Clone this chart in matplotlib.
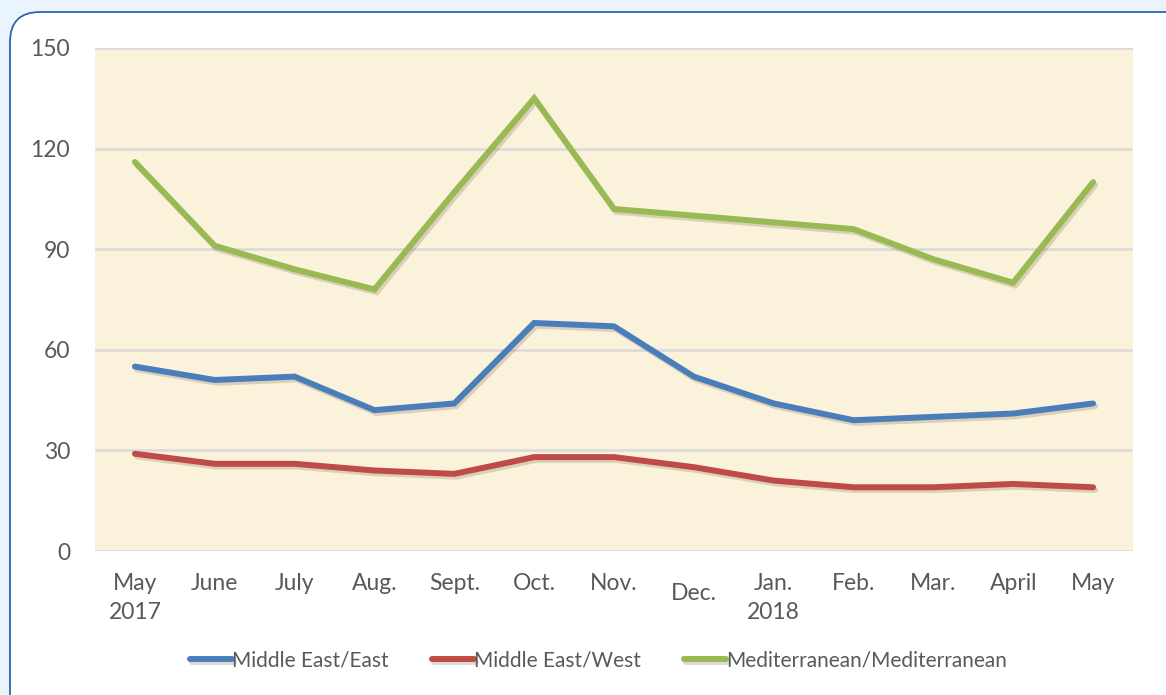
import matplotlib
matplotlib.use('Agg')
import matplotlib.pyplot as plt
import matplotlib.patheffects as pe
from matplotlib.patches import FancyBboxPatch

# ─────────────────────────────────────────────────────────────────
# Data
# ─────────────────────────────────────────────────────────────────
months = ['May\n2017', 'June', 'July', 'Aug.', 'Sept.', 'Oct.', 'Nov.',
          'Dec.', 'Jan.\n2018', 'Feb.', 'Mar.', 'April', 'May']
me_east = [55, 51, 52, 42, 44, 68, 67, 52, 44, 39, 40, 41, 44]
me_west = [29, 26, 26, 24, 23, 28, 28, 25, 21, 19, 19, 20, 19]
med_med = [116, 91, 84, 78, 107, 135, 102, 100, 98, 96, 87, 80, 110]
y_ticks = [0, 30, 60, 90, 120, 150]

plt.rcParams['font.family'] = ['Lato', 'DejaVu Sans']
TXT = '#595959'

W, H = 1166, 695
fig = plt.figure(figsize=(W / 100, H / 100), dpi=100)
fig.patch.set_facecolor('#EAF4FC')

# background axes holding the white rounded panel (pixel coords)
bg = fig.add_axes([0, 0, 1, 1], zorder=-10)
bg.set_xlim(0, W)
bg.set_ylim(H, 0)
bg.axis('off')
bg.add_patch(FancyBboxPatch((10, 12), 1230, 728,
                            boxstyle='round,pad=0,rounding_size=30',
                            facecolor='white', edgecolor='#2E64B4',
                            linewidth=1.3))

ax = fig.add_axes([95 / W, 1 - 551 / H, (1133 - 95) / W, (551 - 48) / H])
ax.set_facecolor('#FBF2DB')
ax.set_ylim(0, 150)
ax.set_xlim(-0.5, len(months) - 0.5)
ax.set_yticks(y_ticks)
ax.yaxis.grid(True, color='#DADADA', linewidth=1.8)
ax.set_axisbelow(True)
for s in ax.spines.values():
    s.set_visible(False)
ax.tick_params(length=0, labelsize=16.5, colors=TXT)
ax.tick_params(axis='y', pad=18)
ax.tick_params(axis='x', pad=16)

x = list(range(len(months)))
shadow = [pe.SimpleLineShadow(offset=(1.5, -2), alpha=0.22, shadow_color='#6b5a3a'), pe.Normal()]
style = dict(lw=4.3, solid_joinstyle='miter', solid_capstyle='round', path_effects=shadow)
ax.plot(x, me_east, color='#4A7EBB', label='Middle East/East', **style)
ax.plot(x, me_west, color='#BE4B48', label='Middle East/West', **style)
ax.plot(x, med_med, color='#98B954', label='Mediterranean/Mediterranean', **style)

ax.set_xticks(x)
ax.set_xticklabels(months, linespacing=1.45, va='top')
for i, lab in enumerate(ax.get_xticklabels()):
    if months[i] == 'Dec.':
        lab.set_y(-0.02)

leg = ax.legend(loc='center', bbox_to_anchor=(0.485, -0.217), ncol=3,
                frameon=False, fontsize=15, handlelength=2.0, handletextpad=0.0,
                columnspacing=2.1, labelcolor=TXT)

fig.savefig('out.png', dpi=100, facecolor=fig.get_facecolor())
